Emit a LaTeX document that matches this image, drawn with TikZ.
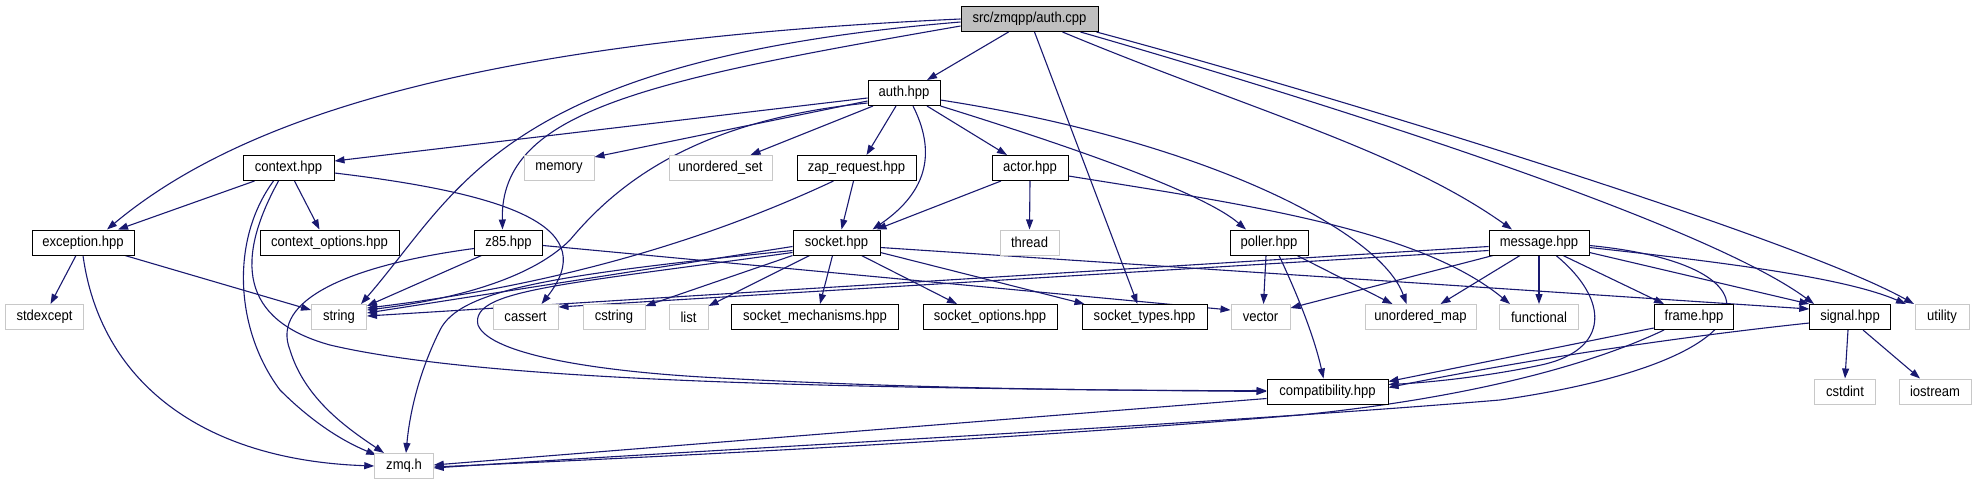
\documentclass[tikz,border=0pt]{standalone}
\usepackage{fontspec}
\setmainfont{Liberation Sans}[FakeStretch=0.9]
\usetikzlibrary{arrows.meta,backgrounds}
\definecolor{edgec}{RGB}{25,25,112}
\definecolor{rootfill}{RGB}{191,191,191}
\definecolor{sysline}{RGB}{200,200,200}
\begin{document}
\begin{tikzpicture}[x=1pt,y=-1pt,
 box/.style={rectangle,minimum height=25pt,inner sep=0pt,font=\fontsize{14.5}{16}\selectfont,fill=white},
 proj/.style={box,draw=black,line width=1pt},
 sys/.style={box,draw=sysline,line width=1pt},
 root/.style={box,draw=black,fill=rootfill,line width=1pt},
 e/.style={draw=edgec,line width=1.1pt,-{Triangle[length=10pt,width=7pt]}}]
\useasboundingbox (0,0) rectangle (1977,485);
% nodes
\node[root,minimum width=137pt] (cpp) at (1029.5,19) {src/zmqpp/auth.cpp};
\node[proj,minimum width=72pt] (authh) at (904,93) {auth.hpp};
\node[proj,minimum width=91pt] (ctx) at (288.5,168) {context.hpp};
\node[sys,minimum width=70pt] (memory) at (559,168) {memory};
\node[sys,minimum width=103pt] (uset) at (720.5,168) {unordered\_set};
\node[proj,minimum width=119pt] (zap) at (856.5,168) {zap\_request.hpp};
\node[proj,minimum width=76pt] (actor) at (1030,168) {actor.hpp};
\node[proj,minimum width=102pt] (exc) at (83,242.5) {exception.hpp};
\node[proj,minimum width=139pt] (ctxopt) at (329.5,242.5) {context\_options.hpp};
\node[proj,minimum width=68pt] (z85) at (508.5,242.5) {z85.hpp};
\node[proj,minimum width=87pt] (sock) at (836.5,242.5) {socket.hpp};
\node[sys,minimum width=59pt] (thread) at (1029.5,242.5) {thread};
\node[proj,minimum width=78pt] (poller) at (1269,242.5) {poller.hpp};
\node[proj,minimum width=100pt] (msg) at (1539,242.5) {message.hpp};
\node[sys,minimum width=78pt] (stdexc) at (44.5,317) {stdexcept};
\node[sys,minimum width=55pt] (string) at (339,317) {string};
\node[sys,minimum width=65pt] (cassert) at (525.5,317) {cassert};
\node[sys,minimum width=62pt] (cstring) at (614,317) {cstring};
\node[sys,minimum width=39pt] (list) at (688.5,317) {list};
\node[proj,minimum width=167pt] (smech) at (815,317) {socket\_mechanisms.hpp};
\node[proj,minimum width=134pt] (sopt) at (990,317) {socket\_options.hpp};
\node[proj,minimum width=125pt] (stypes) at (1144.5,317) {socket\_types.hpp};
\node[sys,minimum width=59pt] (vector) at (1260.5,317) {vector};
\node[sys,minimum width=111pt] (umap) at (1420.5,317) {unordered\_map};
\node[sys,minimum width=79pt] (func) at (1539,317) {functional};
\node[proj,minimum width=79.5pt] (frame) at (1694,317) {frame.hpp};
\node[proj,minimum width=80.5pt] (signal) at (1850,317) {signal.hpp};
\node[sys,minimum width=54pt] (utility) at (1942,317) {utility};
\node[proj,minimum width=121pt] (compat) at (1327.5,391.5) {compatibility.hpp};
\node[sys,minimum width=61.5pt] (cstdint) at (1845,391.5) {cstdint};
\node[sys,minimum width=72pt] (iostream) at (1935,391.5) {iostream};
\node[sys,minimum width=58.5pt] (zmq) at (404,466) {zmq.h};
% edges
\begin{scope}[on background layer]
% auth.cpp
\draw[e] (cpp.west) .. controls (500,40) and (250,110) .. ([xshift=24pt]exc.north);
\draw[e] ([yshift=-3pt]cpp.west) .. controls (500,60) and (460,190) .. ([xshift=22pt]string.north);
\draw[e] ([yshift=-7pt]cpp.west) .. controls (650,80) and (500,110) .. ([xshift=-6pt]z85.north);
\draw[e] ([xshift=-21pt]cpp.south) -- ([xshift=23pt]authh.north);
\draw[e] ([xshift=5pt]cpp.south) -- ([xshift=-7pt]stypes.north);
\draw[e] ([xshift=33pt]cpp.south) .. controls (1250,110) and (1400,150) .. ([xshift=-27pt]msg.north);
\draw[e] ([xshift=51pt]cpp.south) .. controls (1300,95) and (1700,220) .. ([xshift=-36pt]signal.north);
\draw[e] ([xshift=-2pt]cpp.south east) .. controls (1350,100) and (1800,240) .. ([xshift=-28pt]utility.north);
% auth.hpp
\draw[e] ([yshift=-5pt]authh.west) -- ([yshift=7pt]ctx.east);
\draw[e] ([yshift=-8pt]authh.west) -- ([yshift=-2pt]memory.north east);
\draw[e] ([xshift=-31pt]authh.south) -- ([xshift=30pt]uset.north);
\draw[e] ([xshift=-8pt]authh.south) -- ([xshift=10pt]zap.north);
\draw[e] ([xshift=9pt]authh.south) .. controls (935,150) and (930,190) .. ([xshift=36pt]sock.north);
\draw[e] ([xshift=23pt]authh.south) -- ([xshift=-23pt]actor.north);
\draw[e] (authh.south east) .. controls (1050,140) and (1200,190) .. ([xshift=-23pt]poller.north);
\draw[e] ([yshift=-7pt]authh.east) .. controls (1200,140) and (1380,230) .. ([xshift=-14pt]umap.north);
\draw[e] ([yshift=-10pt]authh.west) .. controls (700,120) and (620,180) .. (570,240) .. controls (530,280) and (450,300) .. ([yshift=7pt]string.east);
% zap_request
\draw[e] ([xshift=-3pt]zap.south) -- ([xshift=5pt]sock.north);
\draw[e] ([xshift=-23pt]zap.south) .. controls (750,220) and (600,280) .. ([yshift=9pt]string.east);
% actor
\draw[e] ([xshift=-29pt]actor.south) -- ([xshift=40pt]sock.north);
\draw[e] (actor.south) -- (thread.north);
\draw[e] ([yshift=-8pt]actor.east) .. controls (1250,205) and (1420,230) .. ([xshift=-29pt]func.north);
% context
\draw[e] ([xshift=-34pt]ctx.south) -- ([xshift=35pt]exc.north);
\draw[e] ([xshift=6pt]ctx.south) -- ([xshift=-10pt]ctxopt.north);
\draw[e] ([yshift=-5pt]ctx.east) .. controls (520,195) and (600,230) .. ([xshift=16pt]cassert.north);
\draw[e] ([xshift=-15pt]ctx.south) .. controls (230,240) and (235,330) .. (280,390) .. controls (310,420) and (340,440) .. ([xshift=2pt,yshift=-2pt]zmq.north west);
\draw[e] ([xshift=-10pt]ctx.south) .. controls (235,260) and (240,320) .. (330,345) .. controls (500,385) and (900,388) .. (compat.west);
% exception
\draw[e] ([xshift=-7pt]exc.south) -- ([xshift=6pt]stdexc.north);
\draw[e] ([xshift=42pt]exc.south) -- ([yshift=7pt]string.west);
\draw[e] (exc.south) .. controls (100,380) and (200,460) .. (zmq.west);
% z85
\draw[e] ([xshift=-27pt]z85.south) -- ([yshift=11pt]string.east);
\draw[e] ([yshift=-6pt]z85.west) .. controls (350,265) and (270,300) .. (290,350) .. controls (305,400) and (350,430) .. ([xshift=-20pt]zmq.north);
\draw[e] ([yshift=-3pt]z85.east) -- ([yshift=7pt]vector.west);
% socket
\draw[e] ([yshift=-4pt]sock.west) -- ([yshift=4pt]string.east);
\draw[e] (sock.south west) -- ([yshift=11pt]cstring.east);
\draw[e] ([xshift=-27pt]sock.south) -- ([yshift=-2pt]list.north east);
\draw[e] ([xshift=-4pt]sock.south) -- ([xshift=5pt]smech.north);
\draw[e] ([xshift=25pt]sock.south) -- ([xshift=-33pt]sopt.north);
\draw[e] ([yshift=-10pt]sock.east) -- ([xshift=-60pt]stypes.north);
\draw[e] ([yshift=-5pt]sock.east) -- ([yshift=8pt]signal.west);
\draw[e] ([yshift=-8pt]sock.west) .. controls (550,275) and (460,290) .. (440,330) .. controls (420,370) and (410,410) .. ([xshift=2pt]zmq.north);
\draw[e] ([yshift=-10pt]sock.west) .. controls (560,285) and (470,290) .. (478,325) .. controls (490,355) and (600,372) .. (720,378) .. controls (900,388) and (1100,391) .. ([yshift=1pt]compat.west);
% poller
\draw[e] ([xshift=-3pt]poller.south) -- ([xshift=3pt]vector.north);
\draw[e] ([xshift=10pt]poller.south) .. controls (1300,300) and (1315,340) .. ([xshift=-4pt]compat.north);
\draw[e] ([xshift=28pt]poller.south) -- ([xshift=-28pt]umap.north);
% message
\draw[e] ([yshift=-4pt]msg.west) -- ([yshift=1pt]string.east);
\draw[e] ([yshift=-8pt]msg.west) -- ([yshift=10pt]cassert.east);
\draw[e] ([xshift=-46pt]msg.south) -- ([yshift=9pt]vector.east);
\draw[e] ([xshift=-19pt]msg.south) -- ([xshift=20pt]umap.north);
\draw[e] (msg.south) -- (func.north);
\draw[e] ([xshift=17pt]msg.south) .. controls (1610,300) and (1610,350) .. (1541,365) .. controls (1480,378) and (1420,383) .. ([yshift=7pt]compat.east);
\draw[e] ([xshift=24pt]msg.south) -- ([xshift=-30pt]frame.north);
\draw[e] ([yshift=-10pt]msg.east) -- (signal.north west);
\draw[e] ([yshift=-5pt]msg.east) .. controls (1750,265) and (1850,280) .. ([xshift=-36pt]utility.north);
\draw[e] ([yshift=-3pt]msg.east) .. controls (1790,265) and (1780,360) .. (1500,400) .. controls (1200,425) and (700,450) .. ([yshift=-2pt]zmq.east);
% frame
\draw[e] ([yshift=-11pt]frame.west) -- ([yshift=10pt]compat.east);
\draw[e] ([xshift=-30pt]frame.south) .. controls (1580,370) and (1450,400) .. (1300,415) .. controls (1000,440) and (700,455) .. ([yshift=-1pt]zmq.east);
% signal
\draw[e] ([yshift=-6pt]signal.west) .. controls (1650,340) and (1500,365) .. ([yshift=4pt]compat.east);
\draw[e] ([xshift=-2pt]signal.south) -- (cstdint.north);
\draw[e] ([xshift=13pt]signal.south) -- ([xshift=-15pt]iostream.north);
% compatibility
\draw[e] ([yshift=-7pt]compat.west) -- ([yshift=1pt]zmq.east);
\end{scope}
\end{tikzpicture}
\end{document}
